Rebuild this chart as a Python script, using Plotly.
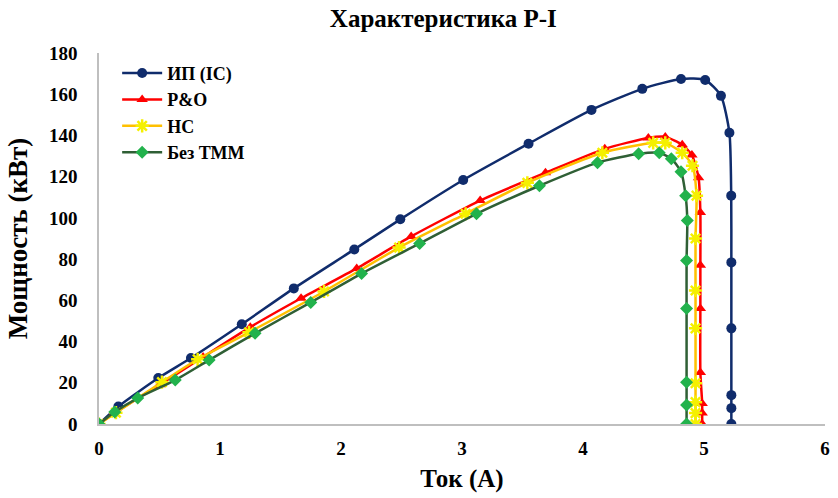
import plotly.graph_objects as go

# ---- data ----
ic_i = [0, 0.16, 0.49, 0.76, 1.18, 1.61, 2.11, 2.49, 3.01, 3.55, 4.07, 4.49, 4.81, 5.01, 5.14, 5.21, 5.225, 5.226, 5.226, 5.226, 5.226, 5.226]
ic_p = [0, 8.5, 22.3, 32, 48.4, 65.8, 84.7, 99.3, 118.4, 136, 152.4, 162.6, 167.4, 166.9, 159.2, 141.3, 110.8, 78.4, 46.4, 14, 7.7, 0]

po_i = [0, 0.12, 0.5, 0.86, 1.25, 1.67, 2.13, 2.58, 3.15, 3.69, 4.18, 4.54, 4.68, 4.82, 4.90, 4.955, 4.97, 4.97, 4.97, 4.97, 4.985, 4.985, 4.985]
po_p = [0, 5, 19, 32.5, 47, 61, 75.5, 91, 108.4, 121.9, 133.5, 138.8, 139.3, 135.5, 130.5, 119.5, 102.6, 77, 56, 25, 10, 5.3, 0]

hc_i = [0, 0.14, 0.52, 0.815, 1.24, 1.86, 2.48, 3.03, 3.54, 4.16, 4.58, 4.68, 4.82, 4.905, 4.938, 4.93, 4.93, 4.93, 4.93, 4.93, 4.93, 4.93]
hc_p = [0, 5.5, 20.3, 31.4, 44.5, 64.3, 85.6, 102, 117, 131.6, 136.4, 136.4, 131.6, 125.3, 110.8, 90, 64.8, 46.4, 19.8, 10.6, 5.3, 0]

bt_i = [0, 0.13, 0.32, 0.63, 0.91, 1.29, 1.75, 2.17, 2.65, 3.12, 3.64, 4.12, 4.46, 4.63, 4.73, 4.81, 4.848, 4.862, 4.856, 4.856, 4.856, 4.856, 4.856]
bt_p = [0, 5.8, 12.6, 21.3, 31, 44, 59, 73, 87.6, 102, 115.6, 126.8, 131.1, 131.6, 128.7, 122.4, 110.8, 98.7, 79.3, 56, 20.3, 9.2, 0]

names = ["ИП (IC)", "P&O", "HC", "Без ТММ"]
x_ticks = [0, 1, 2, 3, 4, 5, 6]
y_ticks = [0, 20, 40, 60, 80, 100, 120, 140, 160, 180]

FONT = "Liberation Serif"

fig = go.Figure()

fig.add_trace(go.Scatter(
    x=ic_i, y=ic_p, name=names[0], mode="lines+markers",
    line=dict(color="#102C6C", width=2.5, shape="spline", smoothing=0.6),
    marker=dict(symbol="circle", size=10, color="#102C6C"),
))
fig.add_trace(go.Scatter(
    x=po_i, y=po_p, name=names[1], mode="lines+markers",
    line=dict(color="#FF0000", width=2.5, shape="spline", smoothing=0.6),
    marker=dict(symbol="triangle-up", size=10, color="#FF0000"),
))
fig.add_trace(go.Scatter(
    x=hc_i, y=hc_p, name=names[2], mode="lines+markers",
    line=dict(color="#FFC000", width=2.5, shape="spline", smoothing=0.6),
    marker=dict(symbol="asterisk", size=11, color="#FFFF00",
                line=dict(color="#F5F000", width=2.5)),
))
fig.add_trace(go.Scatter(
    x=bt_i, y=bt_p, name=names[3], mode="lines+markers",
    line=dict(color="#2F5F35", width=2.5, shape="spline", smoothing=0.6),
    marker=dict(symbol="diamond", size=10, color="#22B24C"),
))

fig.update_layout(
    width=838, height=498,
    margin=dict(l=99, r=8, t=53, b=74),
    paper_bgcolor="white", plot_bgcolor="white",
    font=dict(family=FONT, color="black"),
    title=dict(text="<b>Характеристика P-I</b>", x=0.529, xanchor="center",
               y=0.963, yanchor="middle", font=dict(family=FONT, size=25, color="black")),
    showlegend=True,
    legend=dict(x=0.025, y=0.995, xanchor="left", yanchor="top",
                font=dict(family=FONT, size=18, color="black", weight="bold"),
                bgcolor="rgba(255,255,255,0)", tracegroupgap=0, itemwidth=40),
)

fig.update_xaxes(
    range=[0, 6], tickvals=x_ticks, ticktext=[f"<b>{v}</b>" for v in x_ticks],
    showgrid=False, zeroline=False, showline=True, linecolor="#BFBFBF", linewidth=1.5,
    ticks="", ticklabelstandoff=6,
    tickfont=dict(family=FONT, size=19, color="black"),
    title=dict(text="<b>Ток (А)</b>", font=dict(family=FONT, size=25, color="black"), standoff=12),
)
fig.update_yaxes(
    range=[0, 180], tickvals=y_ticks, ticktext=[f"<b>{v}</b>" for v in y_ticks],
    showgrid=False, zeroline=False, showline=True, linecolor="#BFBFBF", linewidth=1.5,
    ticks="", ticklabelstandoff=16,
    tickfont=dict(family=FONT, size=19, color="black"),
    title=dict(text="<b>Мощность (кВт)</b>", font=dict(family=FONT, size=27, color="black"), standoff=14),
)

fig.write_html("out.html")
